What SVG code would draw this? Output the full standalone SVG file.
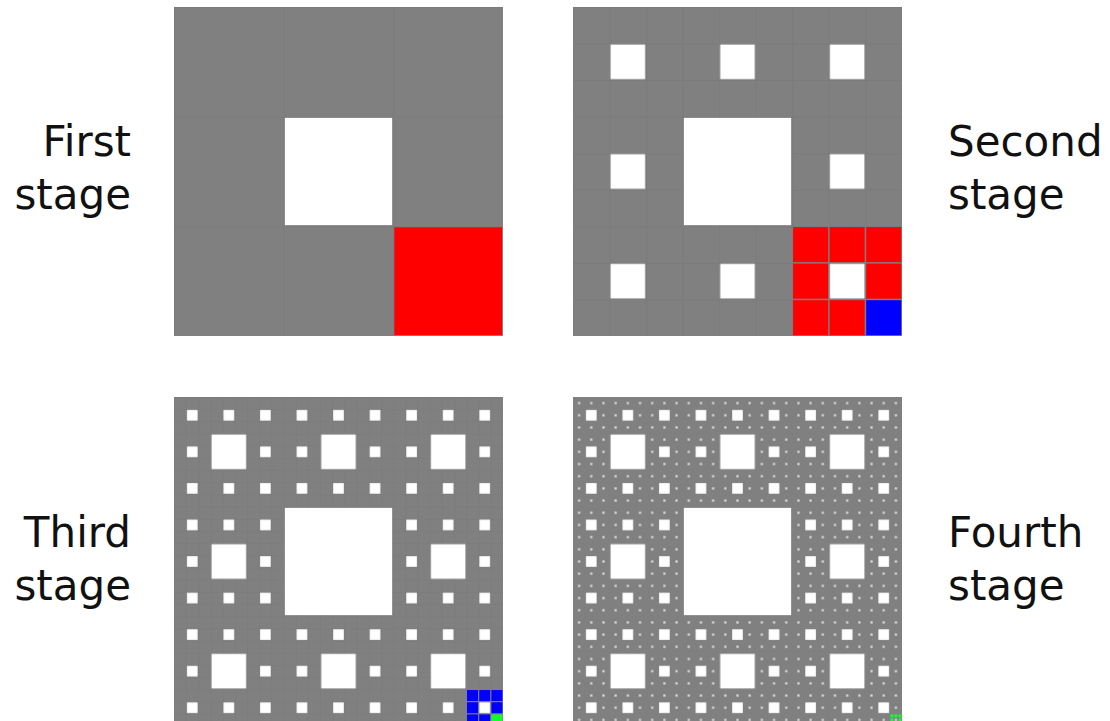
<svg xmlns="http://www.w3.org/2000/svg" width="1110" height="721" viewBox="0 0 1110 721">
<style>
.lbl{font-family:"DejaVu Sans","Noto Sans",sans-serif;font-size:42px;fill:#111}
.bg{fill:#808080}
.hole{fill:#fff}
.dot{fill:#dcdcdc}
.red{fill:#ff0000}
.blue{fill:#0000ff}
.green{fill:#12ff2e}
.grid{fill:none;stroke:#787878;stroke-width:0.8}
</style>
<defs>
<pattern id="g1" patternUnits="userSpaceOnUse" x="0" y="0" width="109.6667" height="109.6667"><path class="grid" d="M0,0.4H109.6667M0.4,0V109.6667"/></pattern>
<pattern id="g2" patternUnits="userSpaceOnUse" x="0" y="0" width="36.5556" height="36.5556"><path class="grid" d="M0,0.4H36.5556M0.4,0V36.5556"/></pattern>
<pattern id="g3" patternUnits="userSpaceOnUse" x="0" y="0" width="12.1852" height="12.1852"><path class="grid" d="M0,0.4H12.1852M0.4,0V12.1852" stroke-opacity="0.6"/></pattern>
<pattern id="p2" patternUnits="userSpaceOnUse" x="0" y="0" width="109.6667" height="109.6667"><rect class="hole" x="37.556" y="37.556" width="34.556" height="34.556"/></pattern>
<pattern id="p3" patternUnits="userSpaceOnUse" x="0" y="0" width="36.5556" height="36.5556"><rect class="hole" x="12.985" y="12.985" width="10.585" height="10.585"/></pattern>
<pattern id="p4" patternUnits="userSpaceOnUse" x="0" y="0" width="12.1852" height="12.1852"><rect class="dot" x="5.0" y="5.0" width="2.2" height="2.2"/></pattern>
<rect id="base" class="bg" x="0" y="0" width="329" height="329"/>
<rect id="h1" class="hole" x="110.87" y="110.87" width="107.27" height="107.27"/>
</defs>

<g id="stage1" transform="translate(174,7)">
<use href="#base"/>
<rect x="0" y="0" width="329" height="329" fill="url(#g1)"/>
<use href="#h1"/>
<rect class="red" x="220.33" y="220.33" width="107.67" height="107.67"/>
</g>

<g id="stage2" transform="translate(573,7)">
<use href="#base"/>
<rect x="0" y="0" width="329" height="329" fill="url(#g2)"/>
<rect x="0" y="0" width="329" height="329" fill="url(#p2)"/>
<use href="#h1"/>
<rect class="red" x="220.08" y="220.08" width="35.06" height="35.06"/>
<rect class="red" x="256.64" y="220.08" width="35.06" height="35.06"/>
<rect class="red" x="293.19" y="220.08" width="35.06" height="35.06"/>
<rect class="red" x="220.08" y="256.64" width="35.06" height="35.06"/>
<rect class="red" x="293.19" y="256.64" width="35.06" height="35.06"/>
<rect class="red" x="220.08" y="293.19" width="35.06" height="35.06"/>
<rect class="red" x="256.64" y="293.19" width="35.06" height="35.06"/>
<rect class="blue" x="293.19" y="293.19" width="35.06" height="35.06"/>
</g>

<g id="stage3" transform="translate(174,397)">
<use href="#base"/>
<rect x="0" y="0" width="329" height="329" fill="url(#g3)"/>
<rect x="0" y="0" width="329" height="329" fill="url(#p3)"/>
<rect x="0" y="0" width="329" height="329" fill="url(#p2)"/>
<use href="#h1"/>
<rect class="blue" x="293.04" y="293.04" width="10.99" height="10.99"/>
<rect class="blue" x="305.23" y="293.04" width="10.99" height="10.99"/>
<rect class="blue" x="317.41" y="293.04" width="10.99" height="10.99"/>
<rect class="blue" x="293.04" y="305.23" width="10.99" height="10.99"/>
<rect class="blue" x="317.41" y="305.23" width="10.99" height="10.99"/>
<rect class="blue" x="293.04" y="317.41" width="10.99" height="10.99"/>
<rect class="blue" x="305.23" y="317.41" width="10.99" height="10.99"/>
<rect class="green" x="317.41" y="317.41" width="10.99" height="10.99"/>
</g>

<g id="stage4" transform="translate(573,397)">
<use href="#base"/>
<rect x="0" y="0" width="329" height="329" fill="url(#p4)"/>
<rect x="0" y="0" width="329" height="329" fill="url(#p3)"/>
<rect x="0" y="0" width="329" height="329" fill="url(#p2)"/>
<use href="#h1"/>
<rect class="green" x="317.4" y="317.4" width="3.0" height="3.0"/>
<rect class="green" x="321.46" y="317.4" width="3.0" height="3.0"/>
<rect class="green" x="325.52" y="317.4" width="3.0" height="3.0"/>
<rect class="green" x="317.4" y="321.46" width="3.0" height="3.0"/>
<rect class="green" x="325.52" y="321.46" width="3.0" height="3.0"/>
</g>

<g id="labels">
<text class="lbl" text-anchor="end" x="131" y="156">First</text>
<text class="lbl" text-anchor="end" x="131" y="209">stage</text>
<text class="lbl" x="948" y="156">Second</text>
<text class="lbl" x="948" y="209">stage</text>
<text class="lbl" text-anchor="end" x="131" y="547">Third</text>
<text class="lbl" text-anchor="end" x="131" y="600">stage</text>
<text class="lbl" x="948" y="547">Fourth</text>
<text class="lbl" x="948" y="600">stage</text>
</g>
</svg>
